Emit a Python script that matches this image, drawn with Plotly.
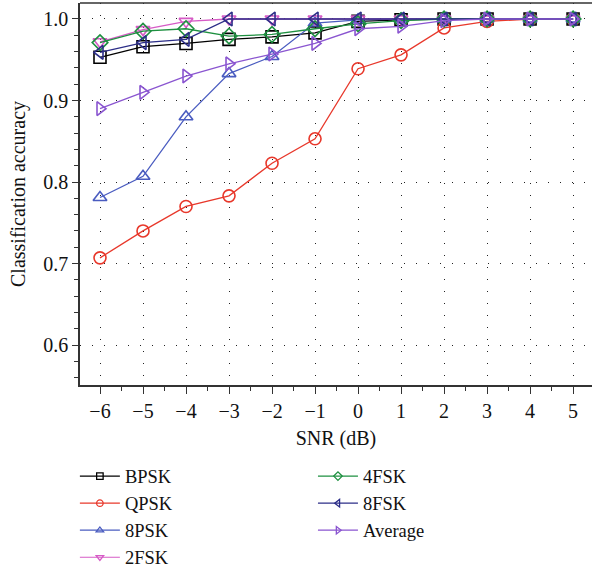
import plotly.graph_objects as go

snr = [-6, -5, -4, -3, -2, -1, 0, 1, 2, 3, 4, 5]
bpsk = [0.953, 0.966, 0.970, 0.975, 0.978, 0.983, 0.997, 0.999, 1.0, 1.0, 1.0, 1.0]
qpsk = [0.707, 0.740, 0.770, 0.783, 0.823, 0.853, 0.939, 0.956, 0.989, 0.997, 1.0, 1.0]
psk8 = [0.781, 0.807, 0.880, 0.933, 0.954, 0.995, 0.999, 1.0, 1.0, 1.0, 1.0, 1.0]
fsk2 = [0.972, 0.987, 0.997, 1.0, 1.0, 1.0, 1.0, 1.0, 1.0, 1.0, 1.0, 1.0]
fsk4 = [0.971, 0.985, 0.988, 0.979, 0.981, 0.988, 0.994, 0.998, 1.0, 1.0, 1.0, 1.0]
fsk8 = [0.959, 0.971, 0.975, 1.0, 1.0, 1.0, 1.0, 1.0, 1.0, 1.0, 1.0, 1.0]
average = [0.890, 0.910, 0.930, 0.945, 0.957, 0.970, 0.988, 0.991, 0.998, 1.0, 1.0, 1.0]

names = ["BPSK", "QPSK", "8PSK", "2FSK", "4FSK", "8FSK", "Average"]
series = [bpsk, qpsk, psk8, fsk2, fsk4, fsk8, average]
colors = ["#000000", "#E8382B", "#4A5CC0", "#D65BC6", "#1E9040", "#2C2E88", "#8A55D0"]
symbols = ["square-open", "circle-open", "triangle-up-open", "triangle-down-open",
           "diamond-open", "triangle-left-open", "triangle-right-open"]
legends = ["legend", "legend", "legend", "legend", "legend2", "legend2", "legend2"]

FONT = "Liberation Serif"
FS = 20

fig = go.Figure()
for name, ys, c, s in zip(names, series, colors, symbols):
    fig.add_trace(go.Scatter(
        x=snr, y=ys, name=name, mode="lines+markers",
        line=dict(color=c, width=1.3),
        marker=dict(symbol=s, size=12, color=c, line=dict(color=c, width=1.6)),
        showlegend=False,
    ))
# legend-only entries with smaller markers
for name, c, s, lg in zip(names, colors, symbols, legends):
    fig.add_trace(go.Scatter(
        x=[None], y=[None], name=name, mode="lines+markers",
        line=dict(color=c, width=1.2),
        marker=dict(symbol=s, size=6.5, color=c, line=dict(color=c, width=1.3)),
        legend=lg, showlegend=True,
    ))

axis_common = dict(
    showline=True, linecolor="#333333", linewidth=1.5,
    ticks="outside", tickcolor="#333333", tickwidth=1.3,
    showgrid=True, gridcolor="#222222", gridwidth=1.3, griddash="1px,11px",
    zeroline=False, automargin=False,
    tickfont=dict(family=FONT, size=FS, color="#111111"),
)

legend_common = dict(yanchor="top", xanchor="left", orientation="v",
                     font=dict(family=FONT, size=18.5, color="#111111"),
                     bgcolor="rgba(0,0,0,0)", itemwidth=40, tracegroupgap=0)

fig.update_layout(
    width=593, height=574, autosize=False,
    margin=dict(l=80, r=1, t=3, b=189, autoexpand=False),
    plot_bgcolor="white", paper_bgcolor="white",
    font=dict(family=FONT, size=FS, color="#111111"),
    xaxis=dict(
        range=[-6.465, 5.44], tickmode="array", tickvals=snr,
        ticklen=7,
        minor=dict(dtick=0.5, tick0=0, ticks="outside", ticklen=4, tickcolor="#333333", showgrid=False),
        title=dict(text="SNR (dB)", font=dict(family=FONT, size=FS), standoff=10),
        **axis_common,
    ),
    yaxis=dict(
        range=[0.551, 1.0196], tickvals=[0.6, 0.7, 0.8, 0.9, 1.0],
        ticktext=["0.6", "0.7", "0.8", "0.9", "1.0"],
        ticklen=6,
        minor=dict(dtick=0.02, tick0=0, ticks="outside", ticklen=4, tickcolor="#333333", showgrid=False),
        title=dict(text="Classification accuracy", font=dict(family=FONT, size=FS), standoff=12),
        **axis_common,
    ),
    legend=dict(x=-0.01, y=-0.19, **legend_common),
    legend2=dict(x=0.455, y=-0.19, **legend_common),
    shapes=[dict(type="line", xref="paper", yref="paper", x0=0, x1=1, y0=1, y1=1,
                 line=dict(color="#333333", width=1.5))],
)

fig.write_html("out.html")
